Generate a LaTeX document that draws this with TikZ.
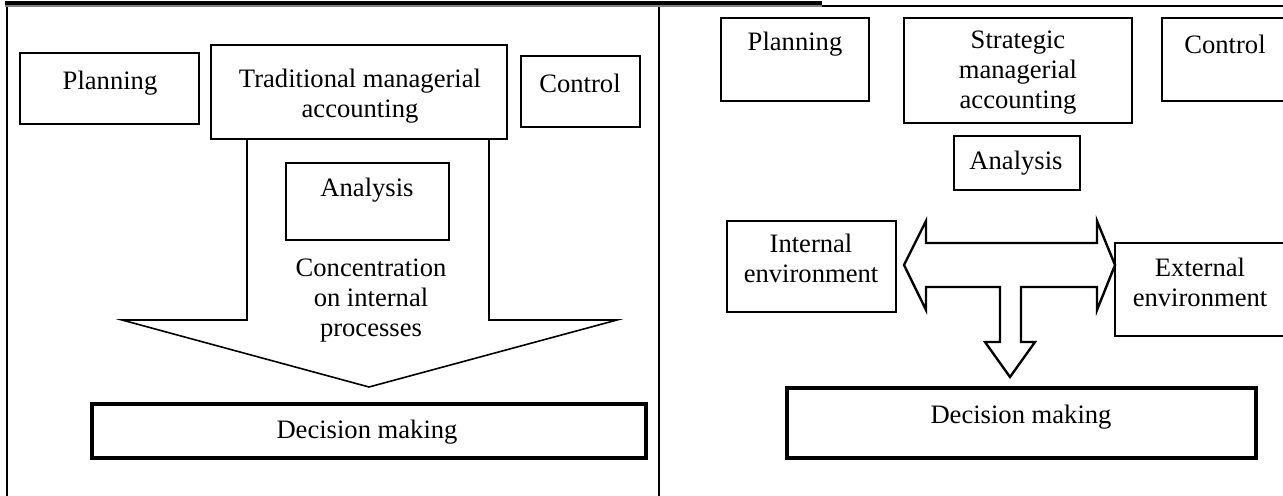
\documentclass[tikz,border=0pt]{standalone}
\usepackage{fontspec}
\setmainfont{Liberation Serif}
\usetikzlibrary{fit}
\tikzset{
    box/.style={draw, line width=0.8pt, inner sep=0pt},
    decbox/.style={draw, line width=2.2pt, inner sep=0pt},
    txt/.style={font=\fontsize{13.3}{15}\selectfont, align=center, inner sep=0pt},
    blockarrow/.style={draw, line join=miter},
}
\begin{document}
\begin{tikzpicture}[x=0.5pt, y=-0.5pt]
        \useasboundingbox (0,0) rectangle (1283,496);
        % frame
        \draw[line width=1pt] (6.5,5) -- (6.5,496);
        \draw[line width=1pt] (659,6) -- (659,496);
        \draw[line width=1.1pt] (659,6) -- (1283,6);
        \draw[line width=1.6pt] (5,3) -- (822,3);
        \draw[gray, line width=0.8pt] (5,6) -- (822,6);

        % traditional
        \node[box, fit={(20,53) (199,124)}] (planL) {};
        \node[box, fit={(211,45) (507,139)}] (tmaL) {};
        \node[box, fit={(521,56) (640,127)}] (ctrlL) {};
        \draw[blockarrow, line width=0.8pt] (247,139) -- (247,320) -- (122,320) -- (369,387)
            -- (617,320) -- (489,320) -- (489,139);
        \node[box, fit={(286,163) (449,240)}] (anaL) {};
        \node[decbox, fit={(92,404) (646,458)}] (decL) {};

        \node[txt] (planLt) at (110,83) {Planning};
        \node[txt] (tmaLt) at (360,96) {Traditional managerial\\accounting};
        \node[txt] (ctrlLt) at (580,83) {Control};
        \node[txt] (anaLt) at (367,190) {Analysis};
        \node[txt] (concLt) at (371,301) {Concentration\\on internal\\processes};
        \node[txt] (decLt) at (367,432) {Decision making};

        % strategic
        \node[box, fit={(721,18) (869,101)}] (planR) {};
        \node[box, fit={(904,18) (1132,123)}] (smaR) {};
        \node[box, fit={(1162,18) (1292,101)}] (ctrlR) {};
        \node[box, fit={(954,136) (1080,190)}] (anaR) {};
        \node[box, fit={(727,221) (896,312)}] (intR) {};
        \node[box, fit={(1115,243) (1292,336)}] (extR) {};
        \node[decbox, fit={(787,388) (1256,458)}] (decR) {};
        \draw[blockarrow, line width=1.2pt] (904,265) -- (926,221) -- (926,243) -- (1097,243)
            -- (1097,221) -- (1115,265) -- (1097,310) -- (1097,287) -- (1021,287)
            -- (1021,342) -- (1035,342) -- (1010,377) -- (985,342) -- (1000,342)
            -- (1000,287) -- (926,287) -- (926,310) -- cycle;

        \node[txt] (planRt) at (795,44) {Planning};
        \node[txt] (smaRt) at (1018,73) {Strategic\\managerial\\accounting};
        \node[txt] (ctrlRt) at (1225,44) {Control};
        \node[txt] (anaRt) at (1016,163) {Analysis};
        \node[txt] (intRt) at (811,258) {Internal\\environment};
        \node[txt] (extRt) at (1200,282) {External\\environment};
        \node[txt] (decRt) at (1021,417) {Decision making};
\end{tikzpicture}
\end{document}
